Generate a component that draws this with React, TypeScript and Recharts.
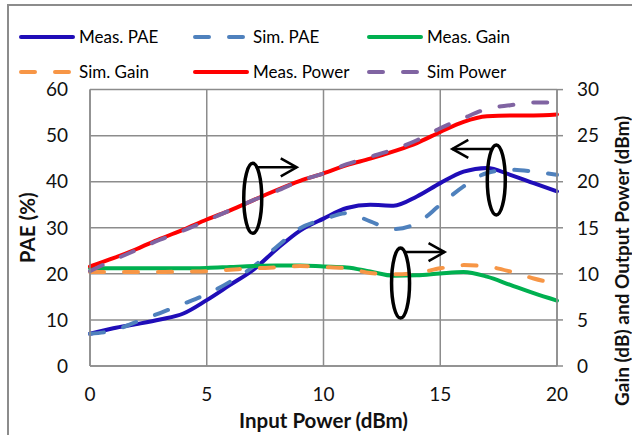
import React from "react";
import {
	LineChart,
	Line,
	XAxis,
	YAxis,
	CartesianGrid,
	ReferenceDot,
	Label,
} from "recharts";

// values
const inputPower = [0, 1, 2, 3, 4, 5, 6, 7, 8, 9, 10, 11, 12, 13, 14, 15, 16, 17, 18, 19, 20];
const measPae = [7.0, 8.2, 9.1, 10.1, 11.4, 14.3, 17.6, 20.9, 25.4, 29.4, 32.0, 34.3, 35.0, 34.8, 36.8, 39.7, 42.2, 43.0, 41.5, 39.7, 37.9];
const simPae = [7.0, 7.7, 9.6, 11.5, 13.5, 15.6, 18.3, 21.6, 25.9, 29.9, 31.8, 33.2, 31.4, 29.7, 31.0, 35.0, 39.0, 41.9, 42.6, 42.2, 41.5];
const measGain = [10.6, 10.6, 10.6, 10.6, 10.6, 10.65, 10.75, 10.85, 10.9, 10.9, 10.8, 10.7, 10.25, 9.8, 9.85, 10.05, 10.2, 9.7, 8.8, 7.9, 7.1];
const simGain = [10.2, 10.2, 10.2, 10.2, 10.25, 10.3, 10.45, 10.6, 10.7, 10.85, 10.75, 10.6, 10.1, 9.95, 10.1, 10.6, 10.95, 10.8, 10.25, 9.5, 8.9];
const measPower = [10.8, 11.7, 12.7, 13.8, 14.8, 15.9, 16.9, 18.0, 19.1, 20.1, 20.9, 21.8, 22.5, 23.3, 24.2, 25.4, 26.5, 27.1, 27.2, 27.2, 27.3];
const simPower = [10.3, 11.5, 12.6, 13.7, 14.7, 15.8, 16.9, 18.0, 19.0, 20.1, 20.9, 21.9, 22.7, 23.5, 24.5, 25.8, 26.9, 27.9, 28.3, 28.6, 28.6];

const xTicks = [0, 5, 10, 15, 20];
const paeTicks = [0, 10, 20, 30, 40, 50, 60];
const rightTicks = [0, 5, 10, 15, 20, 25, 30];

const series = [
	{ key: "measPae", name: "Meas. PAE", color: "#1f0db8", dashed: false, axis: "pae" },
	{ key: "simPae", name: "Sim. PAE", color: "#4f81bd", dashed: true, axis: "pae" },
	{ key: "measGain", name: "Meas. Gain", color: "#00b050", dashed: false, axis: "dbm" },
	{ key: "simGain", name: "Sim. Gain", color: "#f79646", dashed: true, axis: "dbm" },
	{ key: "measPower", name: "Meas. Power", color: "#ff0000", dashed: false, axis: "dbm" },
	{ key: "simPower", name: "Sim Power", color: "#8064a2", dashed: true, axis: "dbm" },
];

// callout ellipses: anchor in data units, arrow direction
const callouts = [
	{ x: 6.97, y: 18.2, axis: "dbm", dir: 1 },
	{ x: 17.4, y: 40.4, axis: "pae", dir: -1 },
	{ x: 13.3, y: 9.0, axis: "dbm", dir: 1 },
];

const data = inputPower.map((x, i) => ({
	x,
	measPae: measPae[i],
	simPae: simPae[i],
	measGain: measGain[i],
	simGain: simGain[i],
	measPower: measPower[i],
	simPower: simPower[i],
}));

const FONT = "Lato, 'Open Sans', sans-serif";
const GRID = "#8c8c8c";
const DASH = "14 20";

type VB = { viewBox?: { x: number; y: number; width: number; height: number } };

function Callout(props: { cx?: number; cy?: number; dir: number }) {
	const cx = props.cx ?? 0;
	const cy = props.cy ?? 0;
	const dir = props.dir;
	const ay = cy - 31;
	const x0 = cx + dir * 3;
	const x1 = cx + dir * 44;
	return (
		<g>
			<ellipse cx={cx} cy={cy} rx={9} ry={35} fill="none" stroke="#000" strokeWidth={3.5} />
			<path d={`M${x0},${ay} H${x1}`} stroke="#000" strokeWidth={2.5} fill="none" />
			<path
				d={`M${x1 - dir * 16},${ay - 9} L${x1},${ay} L${x1 - dir * 16},${ay + 9}`}
				stroke="#000"
				strokeWidth={2.5}
				fill="none"
			/>
		</g>
	);
}

function AxisTitle(props: { x: number; y: number; angle: number; size: number; children: string }) {
	return (
		<text
			x={props.x}
			y={props.y}
			transform={props.angle ? `rotate(${props.angle} ${props.x} ${props.y})` : undefined}
			textAnchor="middle"
			dominantBaseline="central"
			fontFamily={FONT}
			fontWeight="bold"
			fontSize={props.size}
			fill="#111"
		>
			{props.children}
		</text>
	);
}

function LegendBox() {
	return (
		<div
			style={{
				position: "absolute",
				left: 18,
				top: 19,
				display: "grid",
				gridTemplateColumns: "174px 174px 190px",
				gridAutoRows: "35px",
				fontFamily: FONT,
				fontSize: 17,
				color: "#000",
			}}
		>
			{series.map((s) => (
				<div key={s.key} style={{ display: "flex", alignItems: "center" }}>
					<svg width={58} height={8}>
						<line
							x1={3}
							x2={55}
							y1={4}
							y2={4}
							stroke={s.color}
							strokeWidth={4}
							strokeLinecap="round"
							strokeDasharray={s.dashed ? DASH : undefined}
						/>
					</svg>
					<span style={{ marginLeft: 3 }}>{s.name}</span>
				</div>
			))}
		</div>
	);
}

export default function App() {
	const tickStyle = { fontFamily: FONT, fontSize: 19, fill: "#111" };
	return (
		<div style={{ position: "absolute", left: 0, top: 0, width: 632, height: 435, overflow: "hidden", background: "#fff" }}>
			<div
				style={{
					position: "absolute",
					left: 7,
					top: 4,
					width: 700,
					height: 500,
					border: `2px solid ${GRID}`,
				}}
			/>
			<div style={{ position: "absolute", left: 0, top: 0 }}>
				<LineChart
					width={632}
					height={435}
					data={data}
					margin={{ top: 89.6, right: 30, bottom: 39, left: 30 }}
				>
					<CartesianGrid stroke={GRID} strokeWidth={1.5} yAxisId="pae" />
					<XAxis
						dataKey="x"
						type="number"
						domain={[0, 20]}
						ticks={xTicks}
						height={30}
						tickLine={false}
						tickSize={6}
						tickMargin={16}
						stroke={GRID}
						strokeWidth={1.5}
						tick={tickStyle}
					>
						<Label
							content={(p: VB) => {
								const vb = p.viewBox ?? { x: 0, y: 0, width: 0, height: 0 };
								return (
									<AxisTitle x={vb.x + vb.width / 2} y={vb.y + vb.height + 24} angle={0} size={20.5}>
										Input Power (dBm)
									</AxisTitle>
								);
							}}
						/>
					</XAxis>
					<YAxis
						yAxisId="pae"
						orientation="left"
						domain={[0, 60]}
						ticks={paeTicks}
						width={60}
						tickLine={false}
						tickSize={6}
						tickMargin={16}
						stroke={GRID}
						strokeWidth={1.5}
						tick={tickStyle}
					>
						<Label
							content={(p: VB) => {
								const vb = p.viewBox ?? { x: 0, y: 0, width: 0, height: 0 };
								return (
									<AxisTitle x={vb.x - 2.5} y={vb.y + vb.height / 2} angle={-90} size={20.5}>
										PAE (%)
									</AxisTitle>
								);
							}}
						/>
					</YAxis>
					<YAxis
						yAxisId="dbm"
						orientation="right"
						domain={[0, 30]}
						ticks={rightTicks}
						width={45}
						tickSize={6}
						tickMargin={14}
						stroke={GRID}
						strokeWidth={1.5}
						tick={{ ...tickStyle, textAnchor: "start" }}
					>
						<Label
							content={(p: VB) => {
								const vb = p.viewBox ?? { x: 0, y: 0, width: 0, height: 0 };
								return (
									<AxisTitle x={vb.x + 65} y={vb.y + vb.height / 2 + 33} angle={-90} size={19}>
										Gain (dB) and Output Power (dBm)
									</AxisTitle>
								);
							}}
						/>
					</YAxis>
					{series.map((s) => (
						<Line
							key={s.key}
							yAxisId={s.axis}
							dataKey={s.key}
							name={s.name}
							type="monotone"
							stroke={s.color}
							strokeWidth={4}
							strokeLinecap="round"
							strokeDasharray={s.dashed ? DASH : undefined}
							dot={false}
							activeDot={false}
							isAnimationActive={false}
						/>
					))}
					{callouts.map((c, i) => (
						<ReferenceDot
							key={i}
							x={c.x}
							y={c.y}
							yAxisId={c.axis}
							shape={(p: { cx?: number; cy?: number }) => <Callout cx={p.cx} cy={p.cy} dir={c.dir} />}
						/>
					))}
				</LineChart>
			</div>
			<LegendBox />
		</div>
	);
}
